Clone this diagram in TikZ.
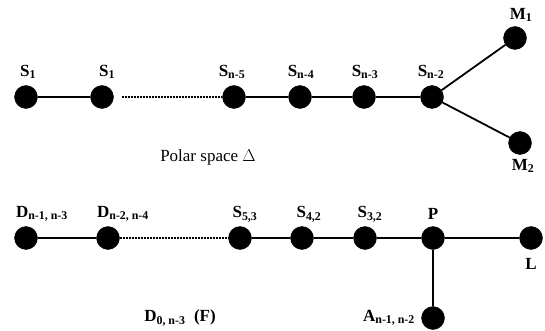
\documentclass[tikz,border=0pt]{standalone}
\usepackage{fontspec}
\setmainfont{Liberation Serif}
\begin{document}
\begin{tikzpicture}[x=1pt,y=-1pt,
  dot/.style={circle,fill=black,draw=black,minimum size=23pt,inner sep=0pt},
  lbl/.style={font=\bfseries\fontsize{17}{19}\selectfont,inner sep=0pt},
  edge/.style={line width=1.8pt},
  dotline/.style={line width=1.8pt,dash pattern=on 2pt off 1pt}]
\useasboundingbox (0,0) rectangle (545,331);
% top row
\node[dot] (t1) at (26,97) {};
\node[dot] (t2) at (102,97) {};
\node[dot] (t3) at (234,97) {};
\node[dot] (t4) at (300,97) {};
\node[dot] (t5) at (364,97) {};
\node[dot] (t6) at (432,97) {};
\node[dot] (m1) at (515,38) {};
\node[dot] (m2) at (520,143) {};
\draw[edge] (t1) -- (t2);
\draw[dotline] (t2.east) ++(8,0) coordinate (d1) -- (t3.west) ++(-8,0) coordinate (d2);
\draw[edge] (t3) -- (t4) -- (t5) -- (t6);
\draw[edge] (t6) -- (m1);
\draw[edge] (t6) -- (m2);
\node[lbl] (lt1) at (28,72) {S\textsubscript{1}};
\node[lbl] (lt2) at (107,72) {S\textsubscript{1}};
\node[lbl] (lt3) at (232,72) {S\textsubscript{n-5}};
\node[lbl] (lt4) at (301,72) {S\textsubscript{n-4}};
\node[lbl] (lt5) at (365,72) {S\textsubscript{n-3}};
\node[lbl] (lt6) at (431,72) {S\textsubscript{n-2}};
\node[lbl] (lm1) at (521,15) {M\textsubscript{1}};
\node[lbl] (lm2) at (523,166) {M\textsubscript{2}};
\node[lbl,font=\fontsize{17}{19}\selectfont] (polar) at (208,157) {Polar space $\Delta$};
% bottom row
\node[dot] (b1) at (26,238) {};
\node[dot] (b2) at (108,238) {};
\node[dot] (b3) at (240,238) {};
\node[dot] (b4) at (302,238) {};
\node[dot] (b5) at (365,238) {};
\node[dot] (b6) at (433,238) {};
\node[dot] (b7) at (531,238) {};
\node[dot] (b8) at (433,318) {};
\draw[edge] (b1) -- (b2);
\draw[dotline] (b2.east) -- (b3.west) ++(-5,0) coordinate (d3);
\draw[edge] (b3) -- (b4) -- (b5) -- (b6) -- (b7);
\draw[edge] (b6) -- (b8);
\node[lbl] (lb1) at (42,214) {D\textsubscript{n-1, n-3}};
\node[lbl] (lb2) at (123,214) {D\textsubscript{n-2, n-4}};
\node[lbl] (lb3) at (245,214) {S\textsubscript{5,3}};
\node[lbl] (lb4) at (309,214) {S\textsubscript{4,2}};
\node[lbl] (lb5) at (370,214) {S\textsubscript{3,2}};
\node[lbl] (lb6) at (433,214) {P};
\node[lbl] (lb7) at (531,264) {L};
\node[lbl] (lb8) at (389,318) {A\textsubscript{n-1, n-2}};
\node[lbl] (lf) at (180,318) {D\textsubscript{0, n-3}\ \ (F)};
\end{tikzpicture}
\end{document}
